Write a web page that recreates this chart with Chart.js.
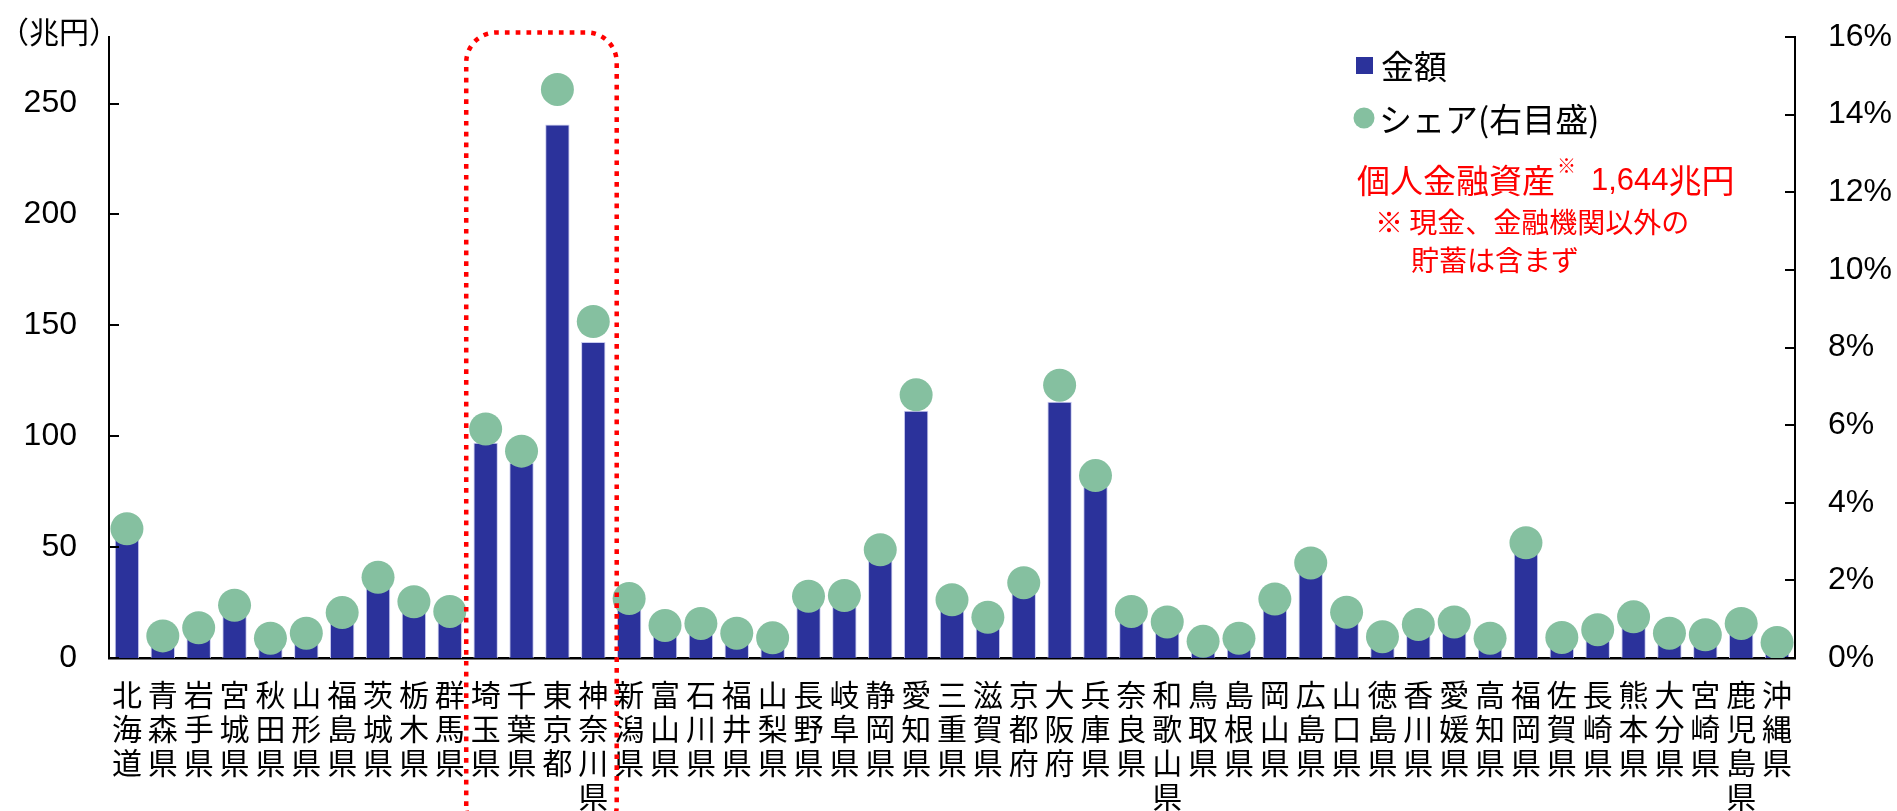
<!DOCTYPE html>
<html lang="ja">
<head>
<meta charset="utf-8">
<title>都道府県別 個人金融資産</title>
<script src="https://cdn.jsdelivr.net/npm/chart.js@4.4.1/dist/chart.umd.min.js"></script>
<style>
  html, body { margin: 0; padding: 0; background: #ffffff; }
  #wrap { position: relative; width: 1897px; height: 811px; }
</style>
</head>
<body>
<div id="wrap"><canvas id="chart"></canvas></div>
<script>
// 都道府県（北から順）
const prefectures = [
  '北海道', '青森県', '岩手県', '宮城県', '秋田県', '山形県', '福島県', '茨城県', '栃木県', '群馬県',
  '埼玉県', '千葉県', '東京都', '神奈川県', '新潟県', '富山県', '石川県', '福井県', '山梨県', '長野県',
  '岐阜県', '静岡県', '愛知県', '三重県', '滋賀県', '京都府', '大阪府', '兵庫県', '奈良県', '和歌山県',
  '鳥取県', '島根県', '岡山県', '広島県', '山口県', '徳島県', '香川県', '愛媛県', '高知県', '福岡県',
  '佐賀県', '長崎県', '熊本県', '大分県', '宮崎県', '鹿児島県', '沖縄県'
];

// 金額（兆円）
const amounts = [
  55.0, 9.5, 12.8, 22.4, 8.4, 10.5, 19.2, 34.2, 23.8, 19.7,
  97.0, 88.0, 240.5, 142.5, 25.2, 13.8, 14.6, 10.5, 8.5, 26.1,
  26.5, 45.9, 111.5, 24.7, 17.3, 31.9, 115.5, 77.3, 19.7, 15.3,
  7.1, 8.4, 25.0, 40.3, 19.4, 9.0, 14.1, 15.3, 8.4, 48.8,
  8.7, 12.0, 17.4, 10.5, 9.9, 14.6, 6.6
];

// シェア（%）
const shares = [
  3.33, 0.57, 0.78, 1.36, 0.51, 0.64, 1.17, 2.08, 1.45, 1.20,
  5.90, 5.33, 14.65, 8.67, 1.53, 0.84, 0.89, 0.64, 0.52, 1.59,
  1.61, 2.79, 6.78, 1.50, 1.05, 1.94, 7.03, 4.70, 1.20, 0.93,
  0.43, 0.51, 1.52, 2.45, 1.18, 0.55, 0.86, 0.93, 0.51, 2.97,
  0.53, 0.73, 1.06, 0.64, 0.60, 0.89, 0.40
];

// 目盛
const amountTicks = [0, 50, 100, 150, 200, 250];
const shareTicks = [0, 2, 4, 6, 8, 10, 12, 14, 16];

// 強調する都県（埼玉〜神奈川）
const highlightFrom = '埼玉県';
const highlightTo = '神奈川県';

const BAR_COLOR = '#2b329b';
const DOT_COLOR = '#85c0a0';
const RED = '#ff0000';
const JP_FONT = '"Noto Sans CJK JP", "Noto Sans", sans-serif';
const NUM_FONT = '"Liberation Sans", Arial, sans-serif';

// 軸の内向き目盛線・注記・凡例
const overlay = {
  id: 'overlay',
  afterDatasetsDraw(chart) {
    const ctx = chart.ctx;
    const xs = chart.scales.x;
    const area = chart.chartArea;
    const i0 = prefectures.indexOf(highlightFrom);
    const i1 = prefectures.indexOf(highlightTo);
    const half = (xs.getPixelForValue(1) - xs.getPixelForValue(0)) / 2;
    const left = xs.getPixelForValue(i0) - half - 1.5;
    const right = xs.getPixelForValue(i1) + half + 5.5;
    const top = area.top - 4.5;
    const bottom = chart.height + 25;
    const r = 30;
    ctx.save();
    ctx.strokeStyle = RED;
    ctx.lineWidth = 4.5;
    ctx.setLineDash([4.7, 6.1]);
    ctx.beginPath();
    ctx.moveTo(left, bottom - r);
    ctx.lineTo(left, top + r);
    ctx.arcTo(left, top, left + r, top, r);
    ctx.lineTo(right - r, top);
    ctx.arcTo(right, top, right, top + r, r);
    ctx.lineTo(right, bottom - r);
    ctx.arcTo(right, bottom, right - r, bottom, r);
    ctx.lineTo(left + r, bottom);
    ctx.arcTo(left, bottom, left, bottom - r, r);
    ctx.stroke();
    ctx.restore();
  },
  afterDraw(chart) {
    const ctx = chart.ctx;
    const area = chart.chartArea;
    const yL = chart.scales.y;
    const yR = chart.scales.y2;
    ctx.save();
    // 内向きの目盛線
    ctx.strokeStyle = '#000';
    ctx.lineWidth = 2;
    ctx.beginPath();
    amountTicks.forEach(v => {
      const py = Math.round(yL.getPixelForValue(v));
      ctx.moveTo(area.left, py);
      ctx.lineTo(area.left + 10, py);
    });
    shareTicks.forEach(v => {
      const py = Math.round(yR.getPixelForValue(v));
      ctx.moveTo(area.right - 10, py);
      ctx.lineTo(area.right, py);
    });
    ctx.stroke();

    // 単位
    ctx.fillStyle = '#000';
    ctx.textBaseline = 'middle';
    ctx.textAlign = 'left';
    ctx.font = '30px ' + JP_FONT;
    ctx.fillText('（兆円）', -1, 32);

    // 凡例
    ctx.fillStyle = BAR_COLOR;
    ctx.fillRect(1356, 57, 17, 17);
    ctx.fillStyle = DOT_COLOR;
    ctx.beginPath();
    ctx.arc(1364, 118, 10.5, 0, Math.PI * 2);
    ctx.fill();
    ctx.fillStyle = '#000';
    ctx.font = '33px ' + JP_FONT;
    ctx.fillText('金額', 1381, 66);
    ctx.fillText('シェア(右目盛)', 1379, 119);

    // 注記
    ctx.fillStyle = RED;
    let x = 1357;
    ctx.font = '33px ' + JP_FONT;
    ctx.fillText('個人金融資産', x, 180);
    x += ctx.measureText('個人金融資産').width + 2;
    ctx.font = '19px ' + JP_FONT;
    ctx.fillText('※', x, 166);
    x += ctx.measureText('※').width + 15;
    ctx.font = '31px ' + NUM_FONT;
    ctx.fillText('1,644', x, 181);
    x += ctx.measureText('1,644').width;
    ctx.font = '33px ' + JP_FONT;
    ctx.fillText('兆円', x, 180);

    ctx.font = '28px ' + JP_FONT;
    ctx.fillText('※ 現金、金融機関以外の', 1375, 222);
    ctx.fillText('貯蓄は含まず', 1411, 260);
    ctx.restore();
  }
};

const zeroPad = s => { s.paddingTop = 0; s.paddingBottom = 0; s.paddingLeft = 0; s.paddingRight = 0; };

new Chart(document.getElementById('chart'), {
  data: {
    labels: prefectures.map(p => Array.from(p)),
    datasets: [
      {
        type: 'line',
        label: 'シェア(右目盛)',
        data: shares,
        yAxisID: 'y2',
        showLine: false,
        pointRadius: 16.5,
        pointHoverRadius: 16.5,
        pointBorderWidth: 0,
        pointBackgroundColor: DOT_COLOR,
        pointBorderColor: DOT_COLOR,
        order: 0
      },
      {
        type: 'bar',
        label: '金額',
        data: amounts,
        yAxisID: 'y',
        backgroundColor: BAR_COLOR,
        borderColor: '#c9cbef',
        borderWidth: { left: 1, right: 1, top: 1, bottom: 0 },
        categoryPercentage: 1.0,
        barPercentage: 0.68,
        order: 1
      }
    ]
  },
  options: {
    responsive: true,
    maintainAspectRatio: false,
    devicePixelRatio: 1,
    animation: false,
    layout: { padding: { top: 37, left: 0, right: 0, bottom: 0 } },
    plugins: {
      legend: { display: false },
      tooltip: { enabled: false }
    },
    scales: {
      x: {
        grid: { display: false, drawTicks: false },
        border: { display: true, color: '#000', width: 2.5 },
        ticks: {
          autoSkip: false,
          maxRotation: 0,
          minRotation: 0,
          padding: 20,
          color: '#000',
          font: { family: JP_FONT, size: 30, lineHeight: 34 / 30 }
        },
        afterFit(s) { s.height = 153; zeroPad(s); }
      },
      y: {
        position: 'left',
        min: 0,
        max: 280,
        grid: { display: false, drawTicks: false },
        border: { display: true, color: '#000', width: 2 },
        ticks: {
          padding: 32,
          color: '#000',
          font: { family: NUM_FONT, size: 32 }
        },
        afterBuildTicks(s) { s.ticks = amountTicks.map(v => ({ value: v })); },
        afterFit(s) { s.width = 109; zeroPad(s); }
      },
      y2: {
        position: 'right',
        min: 0,
        max: 16,
        grid: { display: false, drawTicks: false },
        border: { display: true, color: '#000', width: 2 },
        ticks: {
          padding: 33,
          color: '#000',
          font: { family: NUM_FONT, size: 32 },
          callback: v => v + '%'
        },
        afterBuildTicks(s) { s.ticks = shareTicks.map(v => ({ value: v })); },
        afterFit(s) { s.width = 102; zeroPad(s); }
      }
    }
  },
  plugins: [overlay]
});
</script>
</body>
</html>
